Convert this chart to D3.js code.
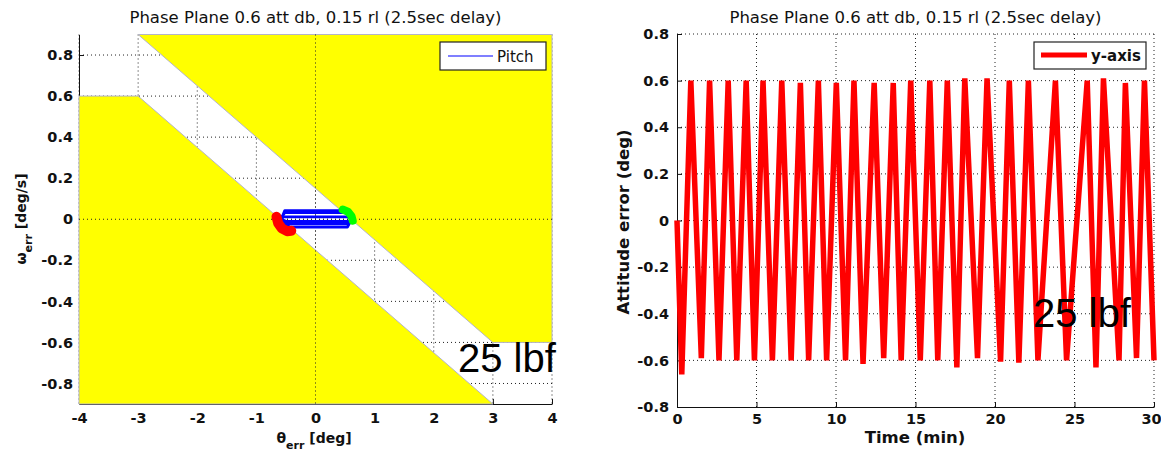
<!DOCTYPE html>
<html><head><meta charset="utf-8">
<script src="https://cdn.jsdelivr.net/npm/d3@7"></script>
<style>body{margin:0;background:#fff}svg{display:block}</style>
</head><body>
<svg id="c" width="1161" height="453"></svg>
<script>
// ---------------- data ----------------
const chartTitle = "Phase Plane 0.6 att db, 0.15 rl (2.5sec delay)";
const annotation = "25 lbf";

// left: phase plane
const phaseXTicks = [-4, -3, -2, -1, 0, 1, 2, 3, 4];
const phaseYTicks = [0.8, 0.6, 0.4, 0.2, 0, -0.2, -0.4, -0.6, -0.8];
const upperYellowTheta = [-3, 4, 4, 3];
const upperYellowOmega = [0.9, 0.9, -0.6, -0.6];
const lowerYellowTheta = [-4, -3, 3, -4];
const lowerYellowOmega = [0.6, 0.6, -0.9, -0.9];
const pitchTheta = [-0.58, -0.52, 0.48, 0.60, 0.62, 0.54, -0.44, -0.58, -0.60, -0.52, 0.50, 0.62, 0.63, 0.56, -0.48, -0.60, -0.54, 0.54, 0.62, 0.58, -0.50, -0.58];
const pitchOmega = [0.0, 0.042, 0.042, 0.03, 0.005, -0.038, -0.038, -0.015, 0.0, 0.032, 0.032, 0.015, -0.005, -0.022, -0.022, -0.005, 0.012, 0.012, 0.0, -0.01, -0.01, 0.0];
const negFireTheta = [-0.66, -0.63, -0.57, -0.48, -0.41];
const negFireOmega = [0.012, -0.02, -0.044, -0.058, -0.056];
const posFireTheta = [0.46, 0.55, 0.61, 0.63];
const posFireOmega = [0.047, 0.037, 0.015, -0.007];

// right: attitude error time history (turning points)
const timeMin = [0, 0.3, 0.87, 1.53, 2.05, 2.64, 3.22, 3.76, 4.35, 4.87, 5.41, 6.0, 6.59, 7.18, 7.76, 8.28, 8.89, 9.41, 10.02, 10.6, 11.13, 11.7, 12.4, 13.0, 13.6, 14.1, 14.7, 15.3, 15.9, 16.4, 17.0, 17.6, 18.1, 18.9, 19.5, 20.35, 20.9, 21.5, 22.1, 22.7, 23.8, 24.5, 25.8, 26.35, 26.82, 27.8, 28.2, 28.9, 29.4, 30.0];
const attErr = [0, -0.66, 0.6, -0.59, 0.6, -0.6, 0.6, -0.6, 0.6, -0.6, 0.6, -0.6, 0.6, -0.6, 0.59, -0.6, 0.6, -0.6, 0.59, -0.6, 0.6, -0.615, 0.59, -0.59, 0.59, -0.6, 0.6, -0.6, 0.6, -0.6, 0.6, -0.63, 0.61, -0.59, 0.61, -0.605, 0.6, -0.61, 0.6, -0.6, 0.6, -0.6, 0.6, -0.63, 0.61, -0.6, 0.59, -0.59, 0.6, -0.6];
const timeTicks = [0, 5, 10, 15, 20, 25, 30];
const errTicks = [0.8, 0.6, 0.4, 0.2, 0, -0.2, -0.4, -0.6, -0.8];

// ---------------- drawing ----------------
const svg = d3.select("#c");
const FONT = "'DejaVu Sans', Verdana, sans-serif";
const fmt = d => (d === 0 ? "0" : String(d));

function grid(g, x, y, xt, yt, xa, xb, ya, yb) {
  g.selectAll(null).data(xt).join("line")
    .attr("x1", d => x(d)).attr("x2", d => x(d)).attr("y1", ya).attr("y2", yb)
    .attr("stroke", "#222").attr("stroke-width", 1).attr("stroke-dasharray", "1,3");
  g.selectAll(null).data(yt).join("line")
    .attr("y1", d => y(d)).attr("y2", d => y(d)).attr("x1", xa).attr("x2", xb)
    .attr("stroke", "#222").attr("stroke-width", 1).attr("stroke-dasharray", "1,3");
}
function styleAxis(g) {
  g.selectAll("text").attr("font-family", FONT).attr("font-weight", "bold")
    .attr("font-size", 14.5).attr("fill", "#111");
  g.selectAll("line,path").attr("stroke", "#111");
}

// ===== LEFT =====
const xL = d3.scaleLinear().domain([-4, 4]).range([79, 552]);
const yL = d3.scaleLinear().domain([-0.9, 0.9]).range([404, 34.5]);
const L = svg.append("g");
grid(L, xL, yL, phaseXTicks, phaseYTicks, xL(-4), xL(4), yL(0.9), yL(-0.9));
const axL = L.append("g").attr("transform", `translate(${xL(-4)},0)`)
  .call(d3.axisLeft(yL).tickValues(phaseYTicks).tickFormat(fmt).tickSizeInner(-5).tickSizeOuter(0).tickPadding(6));
styleAxis(axL);
const axB = L.append("g").attr("transform", `translate(0,${yL(-0.9)})`)
  .call(d3.axisBottom(xL).tickValues(phaseXTicks).tickFormat(fmt).tickSizeInner(-5).tickSizeOuter(0).tickPadding(9));
styleAxis(axB);

const poly = (th, om) => d3.line().x((d, i) => xL(th[i])).y((d, i) => yL(om[i]))(th) + "Z";
L.append("path").attr("d", poly(upperYellowTheta, upperYellowOmega))
  .attr("fill", "#ffff00").attr("stroke", "#b4b4c8").attr("stroke-width", 1);
L.append("path").attr("d", poly(lowerYellowTheta, lowerYellowOmega))
  .attr("fill", "#ffff00").attr("stroke", "#b4b4c8").attr("stroke-width", 1);
// zero lines over patches
L.append("line").attr("x1", xL(0)).attr("x2", xL(0)).attr("y1", yL(0.9)).attr("y2", yL(-0.9))
  .attr("stroke", "#222").attr("stroke-dasharray", "1,3");
L.append("line").attr("x1", xL(-4)).attr("x2", xL(4)).attr("y1", yL(0)).attr("y2", yL(0))
  .attr("stroke", "#222").attr("stroke-dasharray", "1,3");

const lineL = (th, om) => d3.line().x((d, i) => xL(th[i])).y((d, i) => yL(om[i]))(th);
L.append("path").attr("d", lineL(pitchTheta, pitchOmega)).attr("fill", "none")
  .attr("stroke", "#0000ff").attr("stroke-width", 2.8).attr("stroke-linejoin", "round");
L.append("path").attr("d", lineL(negFireTheta, negFireOmega)).attr("fill", "none")
  .attr("stroke", "#ff0000").attr("stroke-width", 10).attr("stroke-linecap", "round").attr("stroke-linejoin", "round");
L.append("path").attr("d", lineL(posFireTheta, posFireOmega)).attr("fill", "none")
  .attr("stroke", "#00ff00").attr("stroke-width", 8).attr("stroke-linecap", "round").attr("stroke-linejoin", "round");

// left legend
const lgL = L.append("g");
lgL.append("rect").attr("x", 440).attr("y", 42).attr("width", 106).attr("height", 28)
  .attr("fill", "#fff").attr("stroke", "#222").attr("stroke-width", 1.2);
lgL.append("line").attr("x1", 448).attr("x2", 493).attr("y1", 56).attr("y2", 56)
  .attr("stroke", "#0000ff").attr("stroke-width", 1.2);
lgL.append("text").attr("x", 497).attr("y", 61.5).text("Pitch")
  .attr("font-family", FONT).attr("font-size", 15).attr("fill", "#111");

// titles & labels left
L.append("text").attr("x", 315.5).attr("y", 23).attr("text-anchor", "middle")
  .attr("font-family", FONT).attr("font-size", 16.5).attr("fill", "#111").text(chartTitle);
const xlab = L.append("text").attr("x", 314).attr("y", 443).attr("text-anchor", "middle")
  .attr("font-family", FONT).attr("font-size", 14).attr("font-weight", "bold").attr("fill", "#111");
xlab.append("tspan").text("θ");
xlab.append("tspan").attr("dy", 6).attr("font-size", 11).text("err");
xlab.append("tspan").attr("dy", -6).text(" [deg]");
const ylab = L.append("text").attr("transform", "translate(26,219) rotate(-90)").attr("text-anchor", "middle")
  .attr("font-family", FONT).attr("font-size", 14).attr("font-weight", "bold").attr("fill", "#111");
ylab.append("tspan").text("ω");
ylab.append("tspan").attr("dy", 6).attr("font-size", 11).text("err");
ylab.append("tspan").attr("dy", -6).text(" [deg/s]");
L.append("text").attr("x", 458).attr("y", 372).text(annotation)
  .attr("font-family", "'Liberation Sans', Arial, sans-serif").attr("font-size", 40).attr("fill", "#000");

// ===== RIGHT =====
const xR = d3.scaleLinear().domain([0, 30]).range([677, 1154]);
const yR = d3.scaleLinear().domain([-0.8, 0.8]).range([407, 34]);
const R = svg.append("g");
grid(R, xR, yR, timeTicks.slice(1), errTicks.slice(0, -1), xR(0), xR(30), yR(0.8), yR(-0.8));
const axRL = R.append("g").attr("transform", `translate(${xR(0)},0)`)
  .call(d3.axisLeft(yR).tickValues(errTicks).tickFormat(fmt).tickSizeInner(-5).tickSizeOuter(0).tickPadding(8));
styleAxis(axRL);
const axRB = R.append("g").attr("transform", `translate(0,${yR(-0.8)})`)
  .call(d3.axisBottom(xR).tickValues(timeTicks).tickFormat(fmt).tickSizeInner(-5).tickSizeOuter(0).tickPadding(7));
styleAxis(axRB);
axRB.selectAll(".tick text").filter(d => d === 30).attr("dx", -3);

R.append("path")
  .attr("d", d3.line().x((d, i) => xR(timeMin[i])).y((d, i) => yR(attErr[i]))(timeMin))
  .attr("fill", "none").attr("stroke", "#ff0000").attr("stroke-width", 5.5).attr("stroke-linejoin", "bevel");

const lgR = R.append("g");
lgR.append("rect").attr("x", 1034).attr("y", 42).attr("width", 112).attr("height", 27)
  .attr("fill", "#fff").attr("stroke", "#222").attr("stroke-width", 1.2);
lgR.append("line").attr("x1", 1041).attr("x2", 1087).attr("y1", 55).attr("y2", 55)
  .attr("stroke", "#ff0000").attr("stroke-width", 5);
lgR.append("text").attr("x", 1091).attr("y", 60.5).text("y-axis")
  .attr("font-family", FONT).attr("font-size", 15).attr("font-weight", "bold").attr("fill", "#111");

R.append("text").attr("x", 915.5).attr("y", 23).attr("text-anchor", "middle")
  .attr("font-family", FONT).attr("font-size", 16.5).attr("fill", "#111").text(chartTitle);
R.append("text").attr("x", 915).attr("y", 443).attr("text-anchor", "middle")
  .attr("font-family", FONT).attr("font-size", 16.5).attr("font-weight", "bold").attr("fill", "#111").text("Time (min)");
R.append("text").attr("transform", "translate(629,222) rotate(-90)").attr("text-anchor", "middle")
  .attr("font-family", FONT).attr("font-size", 16.5).attr("font-weight", "bold").attr("fill", "#111").text("Attitude error (deg)");
R.append("text").attr("x", 1033).attr("y", 327).text(annotation)
  .attr("font-family", "'Liberation Sans', Arial, sans-serif").attr("font-size", 40).attr("fill", "#000");
</script>
</body></html>
